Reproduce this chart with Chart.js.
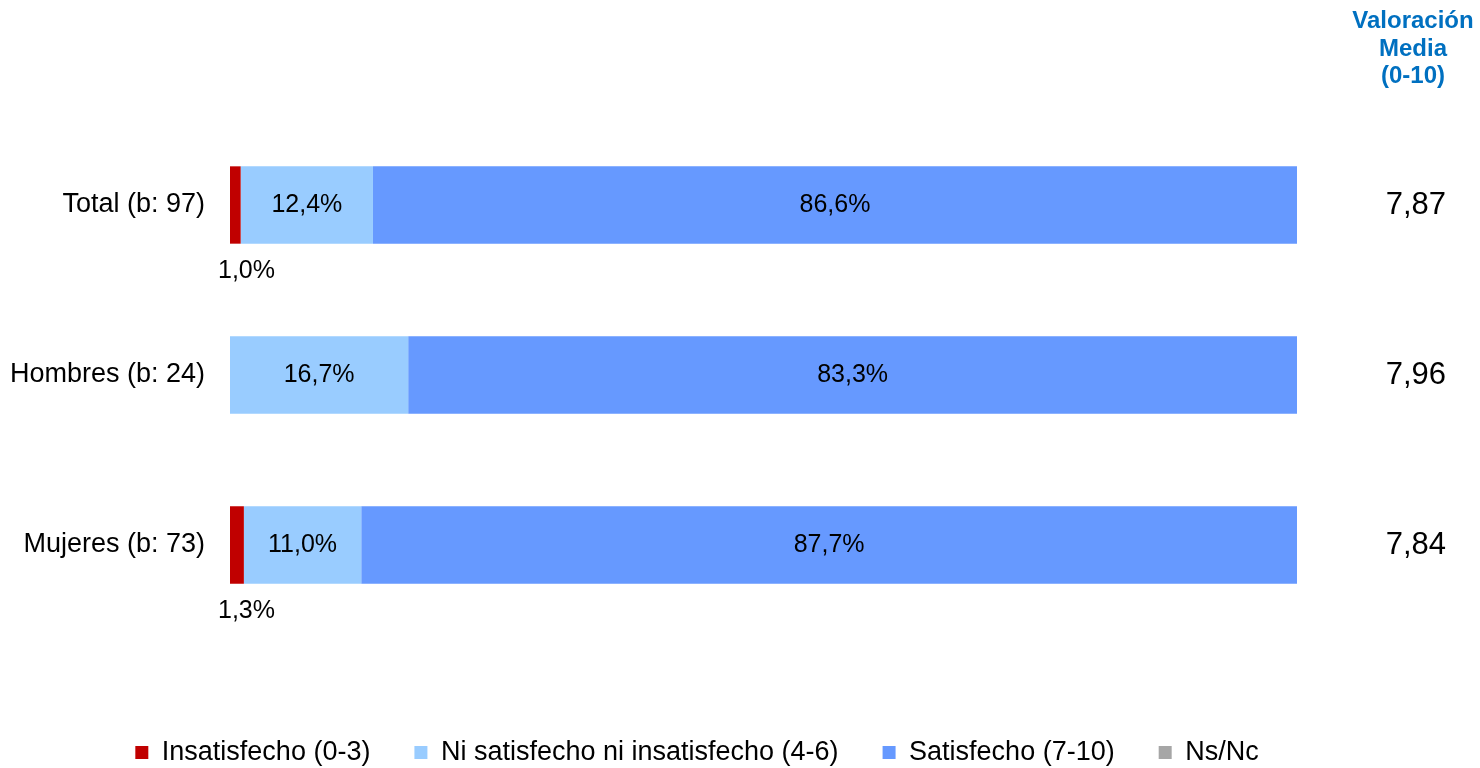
<!DOCTYPE html>
<html>
<head>
<meta charset="utf-8">
<title>Satisfacción</title>
<script src="https://cdn.jsdelivr.net/npm/chart.js@4"></script>
<style>
  html, body { margin: 0; padding: 0; background: #fff; }
  #wrap { width: 1480px; height: 768px; position: relative; }
</style>
</head>
<body>
<div id="wrap"><canvas id="satisfChart"></canvas></div>
<script>
const categories = ["Total (b: 97)", "Hombres (b: 24)", "Mujeres (b: 73)"];
const insatisfecho = [1.0, 0, 1.3];
const niSatisfecho = [12.4, 16.7, 11.0];
const satisfecho = [86.6, 83.3, 87.7];
const nsNc = [0, 0, 0];
const valoracionMedia = [7.87, 7.96, 7.84];
const headerLines = ["Valoración", "Media", "(0-10)"];

Chart.defaults.font.family = "'Liberation Sans', Arial, sans-serif";
Chart.defaults.color = "#000";

const fmt = (v, d) => v.toFixed(d).replace(".", ",");

// percentages inside the bars, small ones go underneath
const barLabels = {
  id: "barLabels",
  afterDatasetsDraw(chart) {
    const ctx = chart.ctx;
    ctx.save();
    ctx.font = "25px 'Liberation Sans', Arial, sans-serif";
    ctx.fillStyle = "#000";
    ctx.textBaseline = "middle";
    chart.data.datasets.forEach((ds, i) => {
      const meta = chart.getDatasetMeta(i);
      meta.data.forEach((bar, j) => {
        const v = ds.data[j];
        if (!v) return;
        const p = bar.getProps(["x", "y", "base", "height"], true);
        const txt = fmt(v, 1) + "%";
        if (v >= 5) {
          ctx.textAlign = "center";
          ctx.fillText(txt, (p.x + p.base) / 2, p.y);
        } else {
          ctx.textAlign = "left";
          ctx.fillText(txt, p.base - 12, p.y + p.height / 2 + 27);
        }
      });
    });
    ctx.restore();
  }
};

// header above the mean column
const meanHeader = {
  id: "meanHeader",
  afterDraw(chart) {
    const ctx = chart.ctx;
    ctx.save();
    ctx.font = "bold 24px 'Liberation Sans', Arial, sans-serif";
    ctx.fillStyle = "#0070C0";
    ctx.textAlign = "center";
    ctx.textBaseline = "alphabetic";
    headerLines.forEach((t, i) => ctx.fillText(t, 1413, 28 + i * 27.5));
    ctx.restore();
  }
};

new Chart(document.getElementById("satisfChart"), {
  type: "bar",
  data: {
    labels: categories,
    datasets: [
      { label: "Insatisfecho (0-3)", data: insatisfecho, backgroundColor: "#C00000" },
      { label: "Ni satisfecho ni insatisfecho (4-6)", data: niSatisfecho, backgroundColor: "#99CCFF" },
      { label: "Satisfecho (7-10)", data: satisfecho, backgroundColor: "#6699FF" },
      { label: "Ns/Nc", data: nsNc, backgroundColor: "#A6A6A6" }
    ]
  },
  options: {
    indexAxis: "y",
    responsive: true,
    maintainAspectRatio: false,
    animation: false,
    datasets: {
      bar: { barPercentage: 0.455, categoryPercentage: 1, borderWidth: 0 }
    },
    layout: { padding: { top: 120, left: 0, right: 86, bottom: -8 } },
    scales: {
      x: {
        stacked: true,
        min: 0,
        max: 100,
        grid: { display: false, drawTicks: false },
        border: { display: false },
        ticks: { display: false },
        afterFit(scale) { scale.height = 65; }
      },
      y: {
        stacked: true,
        grid: { display: false, drawTicks: false },
        border: { display: false },
        ticks: { padding: 25, font: { size: 27 } },
        afterFit(scale) { scale.width = 230; }
      },
      // mean score column; mirrored so the text is not clipped to the narrow axis box
      yMean: {
        type: "category",
        position: "right",
        labels: categories,
        offset: true,
        grid: { display: false, drawTicks: false },
        border: { display: false },
        ticks: {
          mirror: true,
          padding: 149,
          autoSkip: false,
          font: { size: 31 },
          callback: (val, i) => fmt(valoracionMedia[i], 2)
        },
        afterFit(scale) {
          scale.width = 97;
          // the big tick padding must not push the plot area in vertically
          scale.paddingTop = 0;
          scale.paddingBottom = 0;
        }
      }
    },
    plugins: {
      legend: {
        position: "bottom",
        labels: {
          boxWidth: 13,
          boxHeight: 13,
          padding: 44,
          font: { size: 27 }
        }
      },
      tooltip: { enabled: false }
    }
  },
  plugins: [barLabels, meanHeader]
});
</script>
</body>
</html>
